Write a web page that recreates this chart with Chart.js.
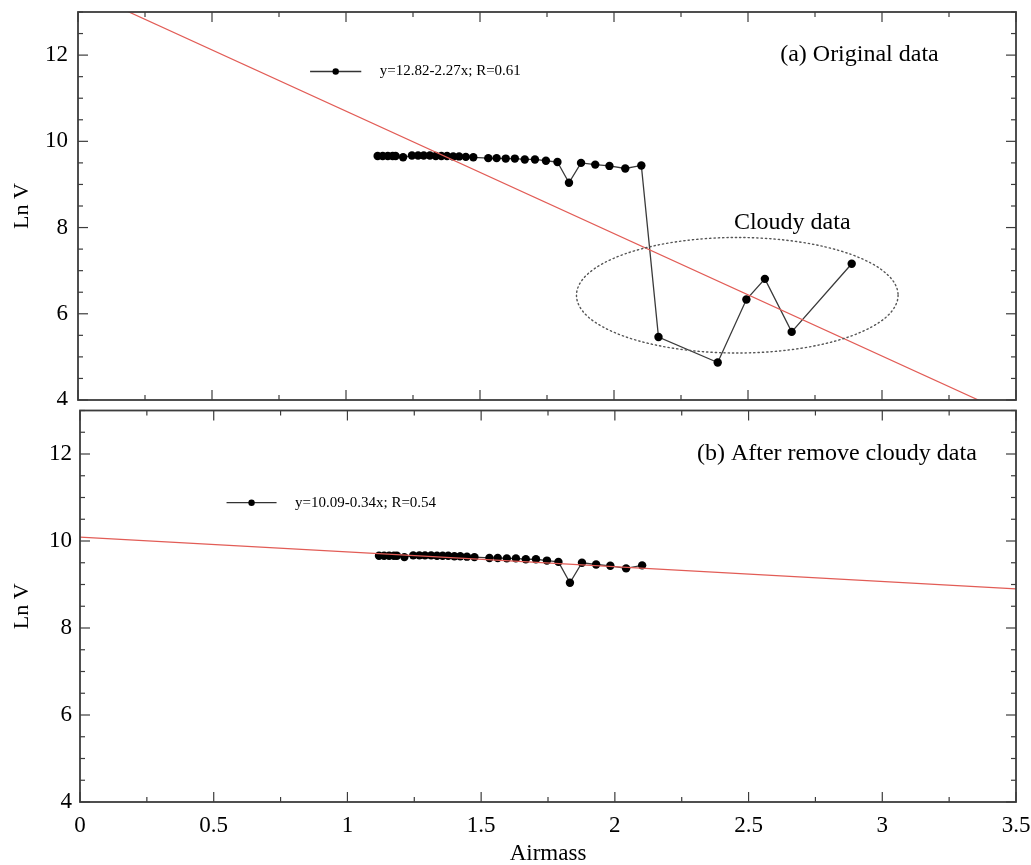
<!DOCTYPE html>
<html>
<head>
<meta charset="utf-8">
<script src="https://cdn.jsdelivr.net/npm/chart.js@4.4.0/dist/chart.umd.min.js"></script>
<style>
  html, body { margin: 0; padding: 0; background: #fff; }
  #wrap { position: relative; width: 1031px; height: 865px; }
  .panel { position: absolute; left: 0; width: 1031px; }
  #top { top: 0; height: 405px; }
  #bottom { top: 405px; height: 460px; }
</style>
</head>
<body>
<div id="wrap">
  <div class="panel" id="top"><canvas id="chartA"></canvas></div>
  <div class="panel" id="bottom"><canvas id="chartB"></canvas></div>
</div>
<script>
// clear-sky samples (kept in panel b)
const airmassClear = [1.118, 1.137, 1.156, 1.174, 1.185, 1.213, 1.246, 1.269, 1.290, 1.313, 1.335,
  1.356, 1.377, 1.400, 1.422, 1.447, 1.475, 1.531, 1.562, 1.596, 1.630, 1.667, 1.705, 1.746,
  1.789, 1.832, 1.877, 1.930, 1.983, 2.042, 2.102];
const lnVClear = [9.66, 9.66, 9.66, 9.66, 9.66, 9.63, 9.67, 9.67, 9.67, 9.67, 9.66,
  9.66, 9.66, 9.65, 9.65, 9.64, 9.63, 9.61, 9.61, 9.60, 9.60, 9.58, 9.58, 9.55,
  9.52, 9.04, 9.50, 9.46, 9.43, 9.37, 9.44];

// cloudy samples (only in panel a)
const airmassCloudy = [2.166, 2.387, 2.494, 2.563, 2.663, 2.887];
const lnVCloudy = [5.46, 4.87, 6.33, 6.81, 5.58, 7.16];

// fitted lines, end points
const fitAllX = [0, 3.5];
const fitAllY = [13.54, 3.60];
const fitClearX = [0, 3.5];
const fitClearY = [10.09, 8.90];

const labelAll = 'y=12.82-2.27x; R=0.61';
const labelClear = 'y=10.09-0.34x; R=0.54';

const xTicks = [0, 0.5, 1, 1.5, 2, 2.5, 3, 3.5];
const yTicks = [4, 6, 8, 10, 12];

const serif = '"Liberation Serif", "Times New Roman", serif';

function points(xs, ys) {
  return xs.map((v, i) => ({ x: v, y: ys[i] }));
}

// frame, inward ticks, ellipse and text notes
const panelDecor = {
  id: 'panelDecor',
  afterDatasetsDraw(chart, args, opts) {
    const { ctx, chartArea: a, scales: { x, y } } = chart;
    ctx.save();

    if (opts.ellipse) {
      const e = opts.ellipse;
      const cx = x.getPixelForValue(e.x), cy = y.getPixelForValue(e.y);
      const rx = Math.abs(x.getPixelForValue(e.x + e.rx) - cx);
      const ry = Math.abs(y.getPixelForValue(e.y + e.ry) - cy);
      ctx.beginPath();
      ctx.setLineDash([1.3, 3]);
      ctx.lineCap = 'round';
      ctx.lineWidth = 1.4;
      ctx.strokeStyle = '#555';
      ctx.ellipse(cx, cy, rx, ry, 0, 0, Math.PI * 2);
      ctx.stroke();
      ctx.setLineDash([]);
      ctx.lineCap = 'butt';
    }

    const seg = (x0, y0, x1, y1) => {
      ctx.beginPath();
      ctx.moveTo(x0, y0);
      ctx.lineTo(x1, y1);
      ctx.stroke();
    };

    ctx.strokeStyle = '#3c3c3c';
    ctx.lineWidth = 1.2;
    for (let i = 0; i <= 14; i++) {
      const px = x.getPixelForValue(i * 0.25);
      const len = i % 2 === 0 ? 10 : 5;
      seg(px, a.bottom, px, a.bottom - len);
      seg(px, a.top, px, a.top + len);
    }
    for (let i = 0; i <= 18; i++) {
      const py = y.getPixelForValue(4 + i * 0.5);
      const len = i % 4 === 0 ? 10 : 5;
      seg(a.left, py, a.left + len, py);
      seg(a.right, py, a.right - len, py);
    }
    ctx.lineWidth = 1.8;
    ctx.strokeRect(a.left, a.top, a.right - a.left, a.bottom - a.top);

    // legend sample
    const lg = opts.legend;
    const ly = y.getPixelForValue(lg.y);
    const lx0 = x.getPixelForValue(lg.x0), lx1 = x.getPixelForValue(lg.x1);
    ctx.strokeStyle = '#333';
    ctx.lineWidth = 1.3;
    seg(lx0, ly, lx1, ly);
    ctx.fillStyle = '#000';
    ctx.beginPath();
    ctx.arc((lx0 + lx1) / 2, ly, 3.2, 0, Math.PI * 2);
    ctx.fill();
    ctx.font = '15px ' + serif;
    ctx.textAlign = 'left';
    ctx.textBaseline = 'middle';
    ctx.fillText(lg.text, x.getPixelForValue(lg.tx), ly);

    ctx.font = '24px ' + serif;
    (opts.notes || []).forEach(n => {
      ctx.textAlign = n.align;
      ctx.fillText(n.text, x.getPixelForValue(n.x), y.getPixelForValue(n.y));
    });
    ctx.restore();
  }
};

function panelChart(canvasId, cfg) {
  return new Chart(document.getElementById(canvasId), {
    type: 'scatter',
    data: {
      datasets: [
        {
          data: points(cfg.fitX, cfg.fitY),
          showLine: true,
          borderColor: 'rgb(226, 92, 86)',
          borderWidth: 1.2,
          pointRadius: 0
        },
        {
          data: points(cfg.xs, cfg.ys),
          showLine: true,
          borderColor: '#3a3a3a',
          borderWidth: 1.3,
          pointRadius: 4.2,
          pointBackgroundColor: '#000',
          pointBorderWidth: 0
        }
      ]
    },
    options: {
      responsive: true,
      maintainAspectRatio: false,
      animation: false,
      layout: { padding: { top: cfg.padTop, right: 15, bottom: cfg.padBottom, left: 0 } },
      plugins: {
        legend: { display: false },
        tooltip: { enabled: false },
        panelDecor: cfg.decor
      },
      scales: {
        x: {
          type: 'linear',
          min: 0,
          max: 3.5,
          display: cfg.showX,
          grid: { display: false, drawTicks: false },
          border: { display: false },
          afterBuildTicks: s => { s.ticks = xTicks.map(v => ({ value: v })); },
          afterFit: s => {
            s.height = cfg.showX ? 63 : 0;
            s.paddingLeft = 0;
            s.paddingRight = 0;
          },
          ticks: {
            color: '#000',
            padding: 10,
            maxRotation: 0,
            font: { family: serif, size: 23 },
            callback: v => String(v)
          },
          title: {
            display: true,
            text: 'Airmass',
            color: '#000',
            font: { family: serif, size: 23, lineHeight: 1.0 },
            padding: { top: 0, bottom: 0 }
          }
        },
        y: {
          type: 'linear',
          min: 4,
          max: 13,
          grid: { display: false, drawTicks: false },
          border: { display: false },
          afterBuildTicks: s => { s.ticks = yTicks.map(v => ({ value: v })); },
          afterFit: s => {
            s.width = cfg.yWidth;
            s.paddingTop = 0;
            s.paddingBottom = 0;
          },
          ticks: {
            color: '#000',
            padding: cfg.yPad,
            font: { family: serif, size: 23 },
            callback: v => String(v)
          },
          title: {
            display: true,
            text: 'Ln V',
            color: '#000',
            font: { family: serif, size: 22 },
            padding: { top: 9, bottom: 0 }
          }
        }
      }
    },
    plugins: [panelDecor]
  });
}

// (a) all samples
panelChart('chartA', {
  xs: airmassClear.concat(airmassCloudy),
  ys: lnVClear.concat(lnVCloudy),
  fitX: fitAllX,
  fitY: fitAllY,
  padTop: 12,
  padBottom: 5,
  showX: false,
  yWidth: 78,
  yPad: 10,
  decor: {
    ellipse: { x: 2.46, y: 6.43, rx: 0.6, ry: 1.34 },
    legend: { x0: 0.866, x1: 1.057, y: 11.62, tx: 1.126, text: labelAll },
    notes: [
      { text: '(a) Original data', x: 2.62, y: 12.0, align: 'left' },
      { text: 'Cloudy data', x: 2.665, y: 8.12, align: 'center' }
    ]
  }
});

// (b) cloudy samples removed
panelChart('chartB', {
  xs: airmassClear,
  ys: lnVClear,
  fitX: fitClearX,
  fitY: fitClearY,
  padTop: 5.5,
  padBottom: 0,
  showX: true,
  yWidth: 80,
  yPad: 8,
  decor: {
    legend: { x0: 0.548, x1: 0.735, y: 10.88, tx: 0.804, text: labelClear },
    notes: [
      { text: '(b) After remove cloudy data', x: 2.307, y: 12.0, align: 'left' }
    ]
  }
});
</script>
</body>
</html>
